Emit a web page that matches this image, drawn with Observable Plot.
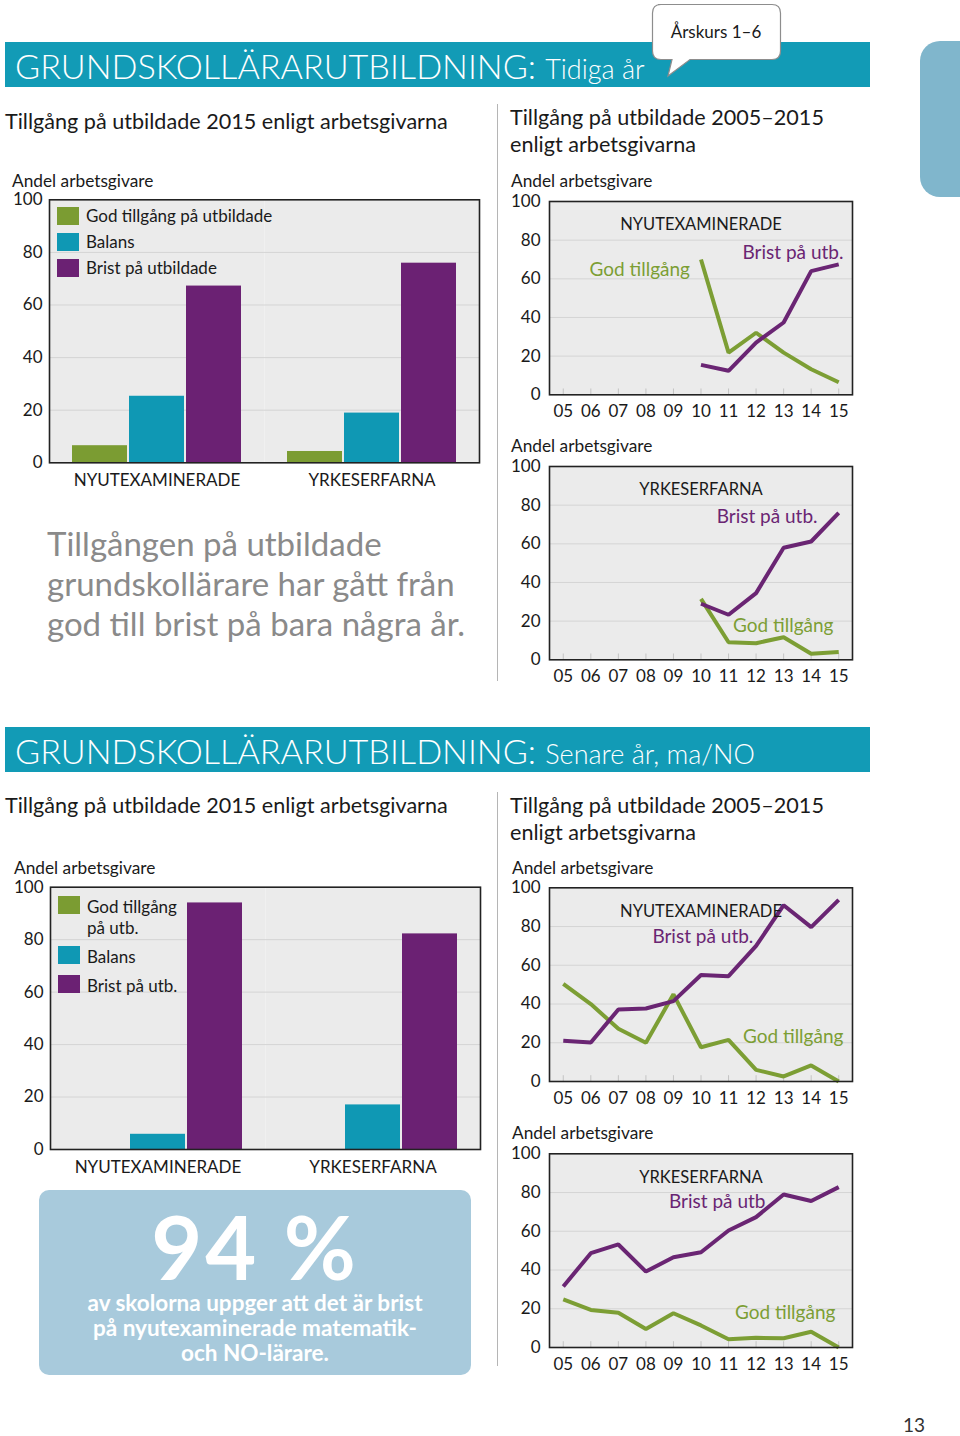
<!DOCTYPE html>
<html>
<head>
<meta charset="utf-8">
<script src="https://cdn.jsdelivr.net/npm/d3@7"></script>
<script src="https://cdn.jsdelivr.net/npm/@observablehq/plot@0.6"></script>
<style>
  html, body { margin: 0; padding: 0; background: #fff; }
  body { width: 960px; height: 1436px; position: relative; overflow: hidden; font-family: Lato, "Open Sans", sans-serif; color: #1a1a1a; }
  .abs { position: absolute; white-space: nowrap; }
  .band { position: absolute; left: 5px; width: 865px; height: 45px; background: #129bb6; }
  .band .big { position: absolute; left: 10px; top: 0; line-height: 47px; color: #fff; font-weight: 300; font-size: 34.2px; }
  .band .big span { font-size: 27px; }
  .sect { font-size: 21.6px; line-height: 27px; }
  .axlab { font-size: 17.3px; line-height: 20px; }
  .quote { font-size: 33px; line-height: 40px; color: #8a8a8a; }
  .vsep { position: absolute; width: 1px; background: #b5b5b5; left: 497px; }
  .lgA-swatch, .lgB-swatch { padding-bottom: 8px !important; align-items: flex-start !important; }
  .lgA-swatch > svg, .lgB-swatch > svg { margin-right: 7px !important; }
  .lgA-swatch-label, .lgB-swatch-label { white-space: normal !important; overflow: visible !important; line-height: 18px; }
  .lgB-swatch-label { line-height: 21px; }
  .lgA-swatches, .lgB-swatches { font-family: Lato, sans-serif !important; font-size: 17px !important; color: #1a1a1a; margin: 0 !important; }
</style>
</head>
<body>
<!-- headers -->
<div class="band" style="top:42px"><div class="big">GRUNDSKOLLÄRARUTBILDNING: <span>Tidiga år</span></div></div>
<svg class="abs" style="left:646px;top:0px" width="140" height="82">
  <path d="M12,4.5 H126 Q134.5,4.5 134.5,13 V51 Q134.5,59.5 126,59.5 H44 L22,76 L26,59.5 H15 Q6.5,59.5 6.5,51 V13 Q6.5,4.5 15,4.5 Z" fill="#fff" stroke="#8d8d8d" stroke-width="1.2"/>
</svg>
<div class="abs" style="left:652px;top:21px;width:128px;text-align:center;font-size:17px;line-height:22px;">Årskurs 1–6</div>
<div class="abs" style="left:920px;top:41px;width:70px;height:156px;background:#80b6cc;border-radius:20px;"></div>

<div class="abs sect" style="left:5px;top:108px;">Tillgång på utbildade 2015 enligt arbetsgivarna</div>
<div class="abs sect" style="left:510px;top:104px;">Tillgång på utbildade 2005–2015<br>enligt arbetsgivarna</div>
<div class="vsep" style="top:104px;height:577px;"></div>

<div class="abs axlab" style="left:12px;top:171px;">Andel arbetsgivare</div>
<div class="abs axlab" style="left:511px;top:171px;">Andel arbetsgivare</div>
<div class="abs axlab" style="left:511px;top:436px;">Andel arbetsgivare</div>

<div id="bar1" class="abs" style="left:0px;top:190px;"></div>
<div id="leg1" class="abs" style="left:57px;top:207px;"></div>
<div id="line1" class="abs" style="left:500px;top:190px;"></div>
<div id="line2" class="abs" style="left:500px;top:455px;"></div>

<div class="abs quote" style="left:47px;top:523px;">Tillgången på utbildade<br>grundskollärare har gått från<br>god till brist på bara några år.</div>

<div class="band" style="top:727px"><div class="big">GRUNDSKOLLÄRARUTBILDNING: <span>Senare år, ma/NO</span></div></div>

<div class="abs sect" style="left:5px;top:792px;">Tillgång på utbildade 2015 enligt arbetsgivarna</div>
<div class="abs sect" style="left:510px;top:792px;">Tillgång på utbildade 2005–2015<br>enligt arbetsgivarna</div>
<div class="vsep" style="top:792px;height:574px;"></div>

<div class="abs axlab" style="left:14px;top:858px;">Andel arbetsgivare</div>
<div class="abs axlab" style="left:512px;top:858px;">Andel arbetsgivare</div>
<div class="abs axlab" style="left:512px;top:1123px;">Andel arbetsgivare</div>

<div id="bar2" class="abs" style="left:0px;top:877px;"></div>
<div id="leg2" class="abs" style="left:58px;top:896px;width:134px;"></div>
<div id="line3" class="abs" style="left:500px;top:876px;"></div>
<div id="line4" class="abs" style="left:500px;top:1142px;"></div>

<div class="abs" style="left:39px;top:1190px;width:432px;height:185px;background:#a8cadc;border-radius:10px;"></div>
<div class="abs" style="left:39px;top:1208px;width:432px;text-align:center;color:#fff;font-weight:700;font-size:88px;line-height:76px;letter-spacing:3px;">94 %</div>
<div class="abs" style="left:39px;top:1290px;width:432px;text-align:center;color:#fff;font-weight:700;font-size:22.5px;line-height:25px;white-space:normal;">av skolorna uppger att det är brist<br>på nyutexaminerade matematik-<br>och NO-lärare.</div>

<div class="abs" style="left:903px;top:1413px;font-size:19px;line-height:24px;color:#333;">13</div>

<script>
// ---------- data ----------
const barGroups = ["NYUTEXAMINERADE", "YRKESERFARNA"];
const tidigaSeries = ["God tillgång på utbildade", "Balans", "Brist på utbildade"];
const senareSeries = ["God tillgång på utb.", "Balans", "Brist på utb."];
const tidigaGod2015 = [6.5, 4.3];
const tidigaBalans2015 = [25.3, 18.9];
const tidigaBrist2015 = [67.2, 75.9];
const senareGod2015 = [0, 0];
const senareBalans2015 = [5.8, 17.0];
const senareBrist2015 = [94.0, 82.2];

const years = [2005, 2006, 2007, 2008, 2009, 2010, 2011, 2012, 2013, 2014, 2015];
const yearLabels = ["05", "06", "07", "08", "09", "10", "11", "12", "13", "14", "15"];
const yTicks = [0, 20, 40, 60, 80, 100];
const lineSeries = ["God tillgång", "Brist på utb."];

const tidigaNyGod   = [null, null, null, null, null, 70.0, 21.8, 32.1, 21.8, 13.2, 6.5];
const tidigaNyBrist = [null, null, null, null, null, 15.5, 12.4, 27.0, 37.4, 64.0, 67.5];
const tidigaYrkGod   = [null, null, null, null, null, 31.5, 9.1, 8.6, 11.7, 3.1, 4.0];
const tidigaYrkBrist = [null, null, null, null, null, 29.0, 23.3, 34.5, 58.0, 61.2, 76.0];
const senareNyGod   = [50.4, 40.0, 27.2, 20.0, 45.0, 17.7, 21.5, 6.0, 2.6, 8.3, 0.0];
const senareNyBrist = [21.0, 20.1, 37.2, 37.7, 41.5, 55.0, 54.4, 70.0, 91.0, 79.7, 93.8];
const senareYrkGod   = [24.8, 19.4, 17.9, 9.6, 17.7, 11.4, 4.3, 5.0, 4.8, 8.1, 0.0];
const senareYrkBrist = [31.5, 48.7, 53.2, 39.2, 46.6, 49.2, 60.4, 67.3, 79.0, 75.6, 82.8];

// annotation labels (data coordinates, right-aligned)
const notesTidigaNy  = [{label: "God tillgång", serie: "God tillgång", year: 2009.6, value: 64.8}, {label: "Brist på utb.", serie: "Brist på utb.", year: 2015.17, value: 73.2}];
const notesTidigaYrk = [{label: "Brist på utb.", serie: "Brist på utb.", year: 2014.23, value: 73.8}, {label: "God tillgång", serie: "God tillgång", year: 2014.81, value: 17.4}];
const notesSenareNy  = [{label: "Brist på utb.", serie: "Brist på utb.", year: 2011.9, value: 74.9}, {label: "God tillgång", serie: "God tillgång", year: 2015.17, value: 22.9}];
const notesSenareYrk = [{label: "Brist på utb", serie: "Brist på utb.", year: 2012.34, value: 75.4}, {label: "God tillgång", serie: "God tillgång", year: 2014.88, value: 17.7}];

// ---------- styling ----------
const GREEN = "#7b9c32", TEAL = "#0f98b4", PURPLE = "#6b2173";
const LGREEN = "#7c9e34", LPURPLE = "#6a2573";
const BG = "#ebebeb", GRID = "#d4d4d4", FRAME = "#222";

function barChart(god, balans, brist, series, mLeft, mTop, frameH) {
  const rows = barGroups.flatMap((g, i) => [
    {group: g, serie: series[0], value: god[i]},
    {group: g, serie: series[1], value: balans[i]},
    {group: g, serie: series[2], value: brist[i]}
  ]);
  return Plot.plot({
    width: 482, height: mTop + frameH + 30,
    marginLeft: mLeft, marginRight: 482 - mLeft - 431, marginTop: mTop, marginBottom: 30,
    style: {fontFamily: "Lato, sans-serif", fontSize: "17px", color: "#1a1a1a", background: "transparent", overflow: "visible"},
    fx: {domain: barGroups, paddingInner: 0, paddingOuter: 0, label: null, axis: "bottom", tickSize: 0, tickPadding: 11},
    x: {domain: series, axis: null, paddingInner: 0.035, paddingOuter: 0.375},
    y: {domain: [0, 100], ticks: yTicks, tickSize: 0, tickPadding: 7, label: null},
    color: {domain: series, range: [GREEN, TEAL, PURPLE]},
    marks: [
      Plot.frame({fill: BG}),
      Plot.ruleY([20, 40, 60, 80], {stroke: GRID}),
      Plot.barY(rows, {fx: "group", x: "serie", y: "value", fill: "serie"}),
      Plot.frame({stroke: FRAME, strokeWidth: 1.6, facet: "super"})
    ]
  });
}

function lineChart(god, brist, title, notes, mTop, frameH) {
  const rows = [];
  years.forEach((yr, i) => {
    if (god[i] != null) rows.push({year: yr, value: god[i], serie: lineSeries[0]});
  });
  years.forEach((yr, i) => {
    if (brist[i] != null) rows.push({year: yr, value: brist[i], serie: lineSeries[1]});
  });
  return Plot.plot({
    width: 360, height: mTop + frameH + 30,
    marginLeft: 49, marginRight: 8, marginTop: mTop, marginBottom: 30,
    style: {fontFamily: "Lato, sans-serif", fontSize: "17px", color: "#1a1a1a", background: "transparent", overflow: "visible"},
    x: {domain: [2004.5, 2015.5], ticks: years, tickFormat: d => yearLabels[years.indexOf(d)], tickSize: 0, tickPadding: 10, label: null},
    y: {domain: [0, 100], ticks: yTicks, tickSize: 0, tickPadding: 9, label: null},
    color: {domain: lineSeries, range: [LGREEN, LPURPLE]},
    marks: [
      Plot.frame({fill: BG}),
      Plot.ruleY([20, 40, 60, 80], {stroke: GRID}),
      Plot.ruleX(years, {y1: 0, y2: 3, stroke: "#c4c4c4"}),
      Plot.lineY(rows, {x: "year", y: "value", z: "serie", stroke: "serie", strokeWidth: 4, strokeLinejoin: "miter", strokeLinecap: "butt"}),
      Plot.text([title], {frameAnchor: "top", dy: 17, fontSize: 16.5, fill: "#1a1a1a"}),
      Plot.text(notes, {x: "year", y: "value", text: "label", fill: "serie", textAnchor: "end", fontSize: 19}),
      Plot.frame({stroke: FRAME, strokeWidth: 1.6})
    ]
  });
}

function legend(series, cls) {
  return Plot.legend({
    color: {domain: series, range: [GREEN, TEAL, PURPLE]},
    legend: "swatches", columns: 1, swatchWidth: 22, swatchHeight: 18, className: cls
  });
}

document.getElementById("bar1").append(barChart(tidigaGod2015, tidigaBalans2015, tidigaBrist2015, tidigaSeries, 48, 9.3, 263));
document.getElementById("leg1").append(legend(tidigaSeries, "lgA"));
document.getElementById("line1").append(lineChart(tidigaNyGod, tidigaNyBrist, "NYUTEXAMINERADE", notesTidigaNy, 11, 193.3));
document.getElementById("line2").append(lineChart(tidigaYrkGod, tidigaYrkBrist, "YRKESERFARNA", notesTidigaYrk, 11, 193.3));

document.getElementById("bar2").append(barChart(senareGod2015, senareBalans2015, senareBrist2015, senareSeries, 49, 9.7, 262.3));
document.getElementById("leg2").append(legend(senareSeries, "lgB"));
document.getElementById("line3").append(lineChart(senareNyGod, senareNyBrist, "NYUTEXAMINERADE", notesSenareNy, 11.3, 193.7));
document.getElementById("line4").append(lineChart(senareYrkGod, senareYrkBrist, "YRKESERFARNA", notesSenareYrk, 11.3, 193.7));
</script>
</body>
</html>
